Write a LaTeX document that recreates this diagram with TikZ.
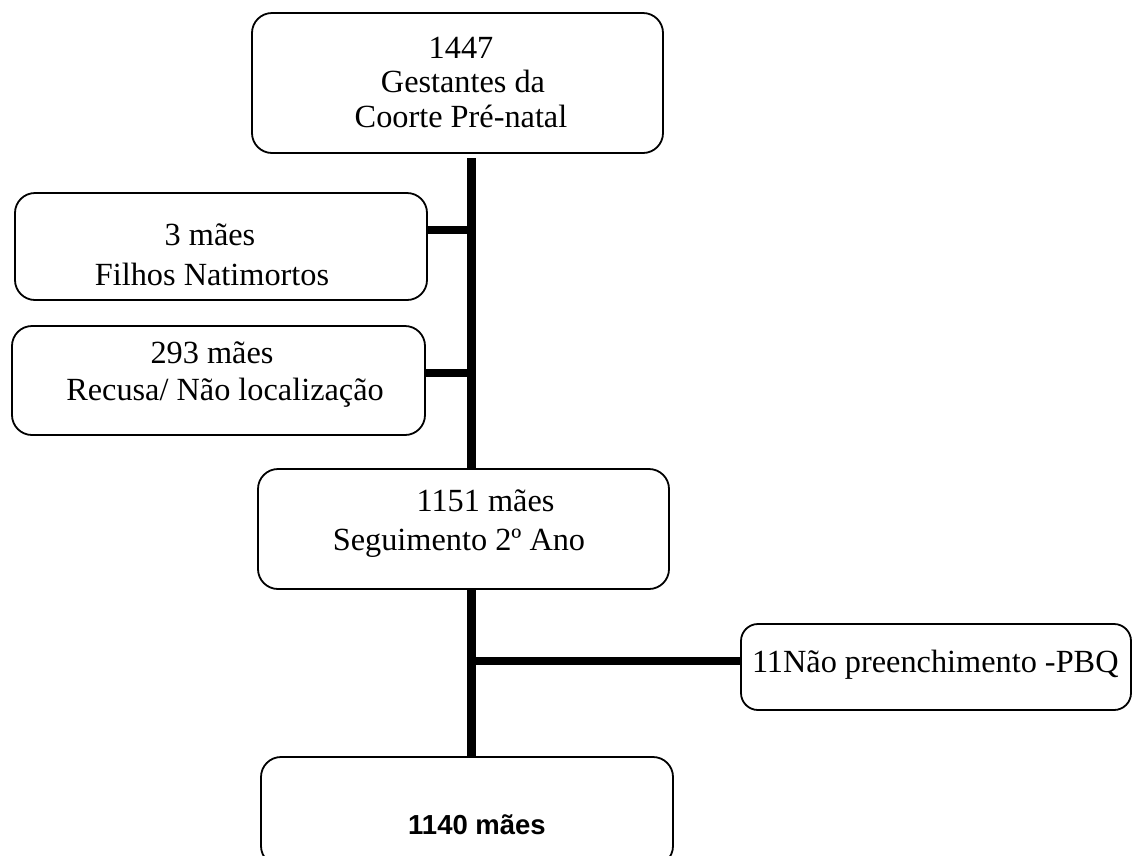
\documentclass[tikz,border=0pt]{standalone}
\usepackage{fontspec}
\setmainfont{Liberation Serif}
\newfontfamily\arialfont{Liberation Sans}
\usetikzlibrary{calc}
\tikzset{
  box/.style={draw=black, line width=1.8pt, rounded corners=20pt, fill=none, inner sep=0pt, outer sep=0pt},
  txt/.style={inner sep=0pt, outer sep=0pt, anchor=base, font=\fontsize{32.3}{36}\selectfont},
  boldtxt/.style={inner sep=0pt, outer sep=0pt, anchor=base, font=\arialfont\bfseries\fontsize{27.5}{32}\selectfont},
  trunk/.style={line width=9pt, black},
  branch/.style={line width=8pt, black}
}
\begin{document}
\begin{tikzpicture}[x=1pt, y=-1pt]
\useasboundingbox (0,0) rectangle (1133,855);
% boxes
\node[box, minimum width=411pt, minimum height=140pt] (top) at (457.5,83) {};
\node[box, minimum width=412pt, minimum height=107pt] (b3) at (221,246.5) {};
\node[box, minimum width=413pt, minimum height=109pt] (b293) at (218.5,380.5) {};
\node[box, minimum width=411pt, minimum height=120pt] (b1151) at (463.5,529) {};
\node[box, rounded corners=17pt, minimum width=390pt, minimum height=86pt] (pbq) at (936,667) {};
\node[box, minimum width=412pt, minimum height=109pt] (b1140) at (467,811.5) {};
% texts
\node[txt] (t1a) at (461,58) {1447};
\node[txt] (t1b) at (463,92) {Gestantes da};
\node[txt] (t1c) at (461,127) {Coorte Pré-natal};
\node[txt] (t2a) at (210,245) {3 mães};
\node[txt] (t2b) at (212,285) {Filhos Natimortos};
\node[txt] (t3a) at (212,363) {293 mães};
\node[txt] (t3b) at (225,400) {Recusa/ Não localização};
\node[txt] (t4a) at (485.5,511) {1151 mães};
\node[txt] (t4b) at (459,550) {Seguimento 2º Ano};
\node[txt, anchor=base west] (t5) at (752,672) {11Não preenchimento -PBQ};
\node[boldtxt] (t6) at (477,834) {1140 mães};
% connectors
\coordinate (j0) at (471,158);
\draw[trunk] (j0) -- (b1151.north -| j0);
\draw[trunk] (b1151.south -| j0) -- (b1140.north -| j0);
\draw[branch] ([yshift=16.5pt]b3.east) -- ([yshift=16.5pt]b3.east -| j0);
\draw[branch] ([yshift=7.5pt]b293.east) -- ([yshift=7.5pt]b293.east -| j0);
\draw[branch] ([yshift=6pt]pbq.west -| j0) -- ([yshift=6pt]pbq.west);
\end{tikzpicture}
\end{document}
